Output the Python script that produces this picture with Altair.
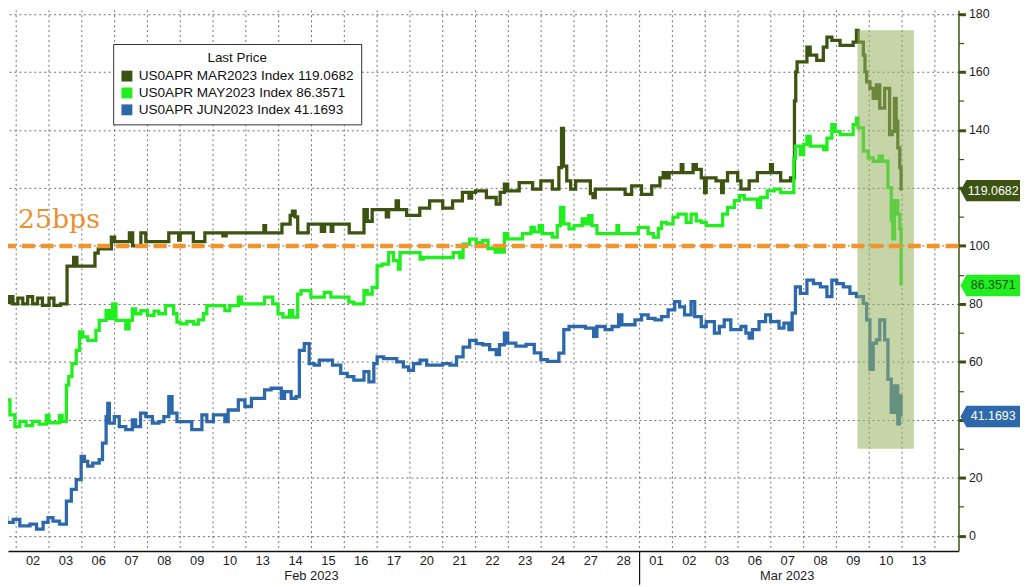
import json
import altair as alt
import pandas as pd

# ---------------- data ----------------
day_labels = ["02", "03", "06", "07", "08", "09", "10", "13", "14", "15", "16", "17", "20", "21",
              "22", "23", "24", "27", "28", "01", "02", "03", "06", "07", "08", "09", "10", "13"]
month_labels = ["Feb 2023", "Mar 2023"]
month_centers = [10.0, 24.5]
month_break = [20]

series_names = ["US0APR MAR2023 Index", "US0APR MAY2023 Index", "US0APR JUN2023 Index"]

# (trading-day index, value); day 0 = Feb 01, day 20 = Mar 01
mar2023 = [(0.5, 81), (0.6, 84), (0.65, 80.5), (0.8, 82.5), (0.9, 80), (1.05, 82), (1.2, 80), (1.35, 82.5),
           (1.5, 80), (1.65, 82), (1.8, 79.5), (2.0, 82), (2.15, 79.5), (2.35, 80), (2.55, 93), (2.75, 96),
           (2.85, 93), (3.4, 97.5), (3.5, 99), (3.9, 103), (4.0, 101.5), (4.45, 104.5), (4.55, 100),
           (4.8, 104.5), (4.95, 101.5), (5.65, 104.5), (5.95, 102), (6.0, 104.5), (6.4, 101.5), (6.75, 104.5),
           (7.3, 103.5), (7.4, 104.5), (8.55, 107), (8.6, 104.5), (9.1, 107.5), (9.35, 110.5), (9.42, 112),
           (9.5, 110), (9.58, 104.5), (9.9, 107.5), (10.3, 105), (10.4, 107.5), (10.6, 105), (10.65, 107.5),
           (11.15, 104.5), (11.6, 112.5), (11.7, 108.5), (11.85, 112.5), (12.28, 110), (12.35, 112.5),
           (12.58, 115.5), (12.65, 112.5), (12.9, 110.5), (13.3, 113), (13.6, 115.5), (14.0, 113), (14.3, 115.5),
           (14.6, 118.5), (14.8, 116.5), (14.88, 118.5), (15.0, 119), (15.33, 116.7), (15.63, 114.4),
           (15.75, 118.5), (15.88, 121.3), (15.98, 119), (16.33, 121.8), (16.74, 119.6), (16.99, 122.4),
           (17.34, 119.6), (17.54, 127), (17.62, 140.5), (17.68, 127.5), (17.78, 122.4), (17.9, 119.6),
           (18.05, 122.4), (18.5, 118), (18.58, 116.7), (18.65, 119.6), (19.56, 117.8), (19.76, 120.7),
           (20.06, 117.8), (20.37, 120.7), (20.62, 123.5), (20.72, 125.3), (20.8, 123.5), (20.9, 125.3),
           (21.27, 128), (21.32, 125.3), (21.63, 128), (21.73, 126.4), (21.88, 123.5), (21.98, 118.4),
           (22.03, 123.5), (22.33, 122.4), (22.5, 118.4), (22.55, 122.4), (22.68, 125.3), (22.99, 122.4),
           (23.09, 119.6), (23.34, 122.4), (23.59, 125.3), (23.99, 128), (24.05, 125.3), (24.3, 122.4),
           (24.6, 123.5), (24.72, 150), (24.76, 160), (24.8, 163.5), (25.1, 168.6), (25.2, 165.8), (25.4, 164),
           (25.6, 168.6), (25.71, 172), (25.86, 170.9), (26.11, 169.2), (26.51, 170.3), (26.61, 174.3),
           (26.66, 170.3), (26.82, 165.8), (26.87, 160), (26.92, 156.6), (27.02, 154.3), (27.12, 150.9),
           (27.22, 155.5), (27.32, 147.5), (27.47, 154.3), (27.62, 138.4), (27.7, 139.5), (27.77, 150.9),
           (27.82, 143), (27.87, 133.8), (27.93, 127), (27.97, 119.0682)]

may2023 = [(0.5, 42.3), (0.66, 46.9), (0.81, 41.7), (0.96, 37.7), (1.11, 39.5), (1.3, 38), (1.5, 39.5),
           (1.7, 38.5), (1.92, 41.5), (2.0, 39), (2.32, 41.5), (2.4, 39.5), (2.53, 52), (2.6, 54.9), (2.7, 59.4),
           (2.83, 64), (2.93, 70.3), (3.03, 68.6), (3.18, 67.4), (3.43, 70.9), (3.53, 74.3), (3.74, 77.7),
           (3.84, 75), (3.94, 80), (4.04, 74.3), (4.34, 71.4), (4.44, 74.3), (4.54, 78.3), (4.64, 76.6),
           (4.8, 77.7), (5.0, 76), (5.2, 77.5), (5.35, 76.6), (5.55, 79.4), (5.8, 76.6), (5.9, 73.7), (6.0, 73.1),
           (6.2, 74), (6.4, 73), (6.55, 74.5), (6.71, 76.6), (6.81, 79.4), (7.36, 77.7), (7.51, 79.4),
           (7.77, 82.3), (7.87, 80), (8.57, 82.3), (8.82, 80), (8.98, 76.6), (9.13, 75.4), (9.33, 77.7),
           (9.43, 75.4), (9.58, 83.4), (9.68, 84.6), (9.98, 82.3), (10.39, 84), (10.59, 82.3), (11.14, 80.6),
           (11.29, 80), (11.6, 84.6), (11.7, 83.4), (11.85, 85.7), (12.0, 93.1), (12.15, 93.7), (12.35, 97.7),
           (12.5, 94.9), (12.65, 92), (12.7, 97.7), (13.31, 95.4), (13.41, 96), (14.32, 97.7), (14.52, 96),
           (14.62, 100.6), (14.82, 102.3), (15.02, 101.1), (15.22, 101.9), (15.38, 99.1), (15.6, 97.9),
           (15.7, 99.1), (15.8, 97.9), (15.88, 104.2), (15.98, 102.4), (16.43, 104.2), (16.69, 106.4),
           (16.79, 104.8), (16.94, 107), (17.04, 104.2), (17.34, 103), (17.49, 107), (17.59, 113.3),
           (17.69, 107.6), (17.85, 105.9), (18.0, 107), (18.25, 109.3), (18.35, 107.6), (18.45, 110.4),
           (18.55, 107), (18.7, 104.2), (19.31, 107), (19.36, 104.2), (19.96, 106.4), (20.26, 104.2),
           (20.42, 103), (20.57, 106), (20.67, 108.1), (20.82, 107.6), (21.02, 109.9), (21.17, 111),
           (21.42, 108.1), (21.57, 111), (21.73, 108.6), (21.88, 108.1), (22.03, 107), (22.53, 111),
           (22.68, 113.3), (22.89, 115.6), (23.04, 117.3), (23.19, 116.1), (23.59, 113.3), (23.69, 116.7),
           (23.89, 119), (24.1, 119.6), (24.3, 118.4), (24.7, 130), (24.75, 134.4), (24.9, 131.5), (25.0, 135),
           (25.1, 137.8), (25.2, 134.4), (25.61, 133.2), (25.71, 137.2), (25.86, 141.8), (25.96, 139.5),
           (26.11, 138.4), (26.51, 141.8), (26.61, 144.1), (26.66, 140.7), (26.82, 132.7), (26.97, 130.4),
           (27.12, 129.2), (27.3, 131), (27.4, 129.2), (27.57, 120.1), (27.67, 108.7), (27.72, 102.4),
           (27.77, 115.6), (27.87, 111), (27.93, 106), (27.97, 86.3571)]

jun2023 = [(0.5, 6.3), (0.71, 4.6), (0.91, 5.7), (1.11, 3.4), (1.42, 4), (1.62, 2.3), (1.82, 4.6), (1.97, 6.3),
           (2.12, 5.1), (2.32, 4), (2.53, 12), (2.68, 16), (2.83, 19.4), (2.98, 27.4), (3.08, 25.7), (3.18, 24),
           (3.33, 25.1), (3.53, 26.3), (3.63, 32), (3.74, 41.1), (3.79, 45.7), (3.84, 38.9), (3.99, 41.1),
           (4.14, 37.7), (4.34, 36.6), (4.54, 40), (4.64, 37.7), (4.79, 42.3), (4.95, 41.1), (5.15, 38.9),
           (5.35, 39.4), (5.5, 41.1), (5.65, 48), (5.75, 42.3), (5.9, 39.4), (6.35, 36.6), (6.66, 41.7),
           (6.81, 39.4), (7.01, 41.7), (7.36, 39.4), (7.46, 43.4), (7.77, 46.9), (7.97, 44.6), (8.17, 47.4),
           (8.57, 50.3), (8.77, 50.9), (9.08, 47.4), (9.18, 49.7), (9.38, 47.4), (9.53, 48), (9.63, 64),
           (9.78, 66.3), (9.93, 59.4), (10.08, 58.9), (10.24, 60.6), (10.64, 58.9), (10.89, 56), (11.09, 54.9),
           (11.29, 53.7), (11.6, 56.6), (11.75, 53.1), (11.9, 59.4), (12.0, 61.7), (12.2, 61.1), (12.6, 60),
           (12.8, 58.3), (12.96, 57.1), (13.11, 59.4), (13.31, 60.6), (13.51, 58.9), (14.0, 59.4), (14.22, 58.9),
           (14.42, 61.7), (14.62, 65.1), (14.82, 67.4), (15.02, 66.3), (15.22, 65.9), (15.43, 64.2),
           (15.63, 62.5), (15.73, 65.9), (15.88, 69.9), (15.98, 66.5), (16.23, 65.4), (16.54, 66), (16.79, 63.1),
           (16.99, 60.8), (17.19, 60.2), (17.54, 63), (17.69, 71.1), (17.85, 72.2), (18.35, 71.6), (18.6, 68.8),
           (18.7, 72.2), (18.95, 71.1), (19.16, 72.2), (19.36, 76.2), (19.46, 72.8), (19.86, 74.5),
           (20.06, 76.2), (20.26, 75), (20.47, 74.5), (20.67, 75.6), (20.87, 77.9), (21.07, 80.8), (21.22, 79),
           (21.37, 76.2), (21.57, 80.8), (21.68, 75.6), (21.88, 72.2), (22.03, 73.9), (22.28, 69.9),
           (22.43, 72.2), (22.58, 74.5), (22.78, 71.1), (23.09, 72.2), (23.24, 69.9), (23.34, 68.2),
           (23.44, 71.1), (23.64, 73.9), (23.84, 76.2), (23.99, 73.9), (24.2, 74), (24.25, 71.6), (24.4, 73.4),
           (24.55, 71.1), (24.65, 76.8), (24.75, 85.9), (24.9, 83.6), (25.1, 88.2), (25.3, 87), (25.51, 85.9),
           (25.71, 82.5), (25.86, 88.2), (26.01, 87), (26.21, 85.9), (26.41, 83.6), (26.61, 82.5), (26.82, 80.2),
           (26.92, 74.5), (27.02, 57.4), (27.12, 66.5), (27.22, 67.6), (27.32, 74.5), (27.47, 67.6),
           (27.57, 54), (27.67, 42.6), (27.77, 51.7), (27.87, 38.6), (27.92, 48.3), (27.97, 41.1693)]

threshold = [100]
threshold_label = "25bps"
highlight_days = [26.64, 28.36]
highlight_values = [30, 174.4]

# ---------------- style / layout ----------------
series_colors = ["#3c5311", "#20ee1e", "#2d69aa"]
flag_text_colors = ["#ffffff", "#145214", "#ffffff"]
FONT = "Liberation Sans"
W, H = 958, 545
X_DOMAIN = [0.75, 29.72]
Y_DOMAIN = [-5.24, 181.28]
AXIS_DARK = "#3c4f12"
GRID = "#6f6f6f"
FLAG = "M-1,0 L-0.8,-0.36 L1,-0.36 L1,0.36 L-0.8,0.36 Z"

all_series = [mar2023, may2023, jun2023]
last_vals = [pts[-1][1] for pts in all_series]
legend_labels = [f"{n} {v:.4f}" for n, v in zip(series_names, last_vals)]

rows = []
for name, pts in zip(series_names, all_series):
    for t, v in pts:
        rows.append({"t": t, "v": v, "series": name})
lines_df = pd.DataFrame(rows)

# axis labels hidden where a last-value flag covers them (as in the original)
hide_test = " || ".join(f"abs(datum.value - {v}) < 5" for v in last_vals)

x_scale = alt.Scale(domain=X_DOMAIN, nice=False, zero=False)
y_scale = alt.Scale(domain=Y_DOMAIN, nice=False, zero=False)

x_axis = alt.Axis(
    values=[i + 1.5 for i in range(len(day_labels))],
    labelExpr=f"{json.dumps(day_labels)}[round(datum.value - 1.5)]",
    grid=False, ticks=False, domain=True, domainColor="#111111", domainWidth=1.5,
    labelFont=FONT, labelFontSize=13, labelColor="#222222", labelPadding=4,
    labelOverlap=False, labelFlush=False, title=None,
)
y_axis = alt.Axis(
    orient="right", values=list(range(0, 181, 10)),
    labelExpr=f"(datum.value % 20 == 0 && !({hide_test})) ? datum.label : ''",
    grid=True, gridColor=GRID, gridDash=[2, 3], gridWidth=1,
    gridOpacity={"condition": {"test": "datum.value % 20 != 0", "value": 0}, "value": 1},
    tickColor=AXIS_DARK,
    tickSize={"condition": {"test": "datum.value % 20 == 0", "value": 7}, "value": 5},
    tickWidth={"condition": {"test": "datum.value % 20 == 0", "value": 3}, "value": 1.2},
    domain=True, domainColor=AXIS_DARK, domainWidth=1.5,
    labelFont=FONT, labelFontSize=12.5, labelColor="#222222", labelPadding=3, title=None,
)

X = lambda f: alt.X(f, scale=x_scale, axis=x_axis)
Y = lambda f: alt.Y(f, scale=y_scale, axis=y_axis)

vgrid = alt.Chart(pd.DataFrame({"t": list(range(1, len(day_labels) + 2))})).mark_rule(
    color=GRID, strokeDash=[2, 3], strokeWidth=1, clip=True
).encode(x=X("t:Q"))

lines = alt.Chart(lines_df).mark_line(
    interpolate="step-after", strokeWidth=3.3, clip=True
).encode(x=X("t:Q"), y=Y("v:Q"),
         color=alt.Color("series:N", scale=alt.Scale(domain=series_names, range=series_colors), legend=None))

hl = alt.Chart(pd.DataFrame({"x0": [highlight_days[0]], "x1": [highlight_days[1]],
                             "y0": [highlight_values[0]], "y1": [highlight_values[1]]})).mark_rect(
    color="#95b361", opacity=0.55
).encode(x=X("x0:Q"), x2="x1:Q", y=Y("y0:Q"), y2="y1:Q")

thr = alt.Chart(pd.DataFrame({"v": threshold})).mark_rule(
    color="#f0952e", strokeWidth=4.5, strokeDash=[13, 6]
).encode(y=Y("v:Q"))

thr_text = alt.Chart(pd.DataFrame({"txt": [threshold_label]})).mark_text(
    font="DejaVu Serif", fontSize=27, color="#ec8f2f", align="left", baseline="alphabetic"
).encode(x=alt.value(10), y=alt.value(219), text="txt:N")

months = alt.Chart(pd.DataFrame({"t": month_centers, "txt": month_labels})).mark_text(
    font=FONT, fontSize=13, color="#222222", baseline="middle"
).encode(x=X("t:Q"), y=alt.value(H + 25), text="txt:N")

sep = alt.Chart(pd.DataFrame({"t": month_break})).mark_rule(color="#111111", strokeWidth=1.2).encode(
    x=X("t:Q"), y=alt.value(H), y2=alt.value(H + 34)
)

flags_df = pd.DataFrame({"name": legend_labels, "v": last_vals, "tcolor": flag_text_colors,
                         "txt": [f"{v:.4f}" for v in last_vals]})
flag_marks = alt.Chart(flags_df).mark_point(
    shape=FLAG, size=3600, filled=True, opacity=1, strokeWidth=0
).encode(
    x=alt.value(W + 32), y=Y("v:Q"),
    fill=alt.Fill("name:N", scale=alt.Scale(domain=legend_labels, range=series_colors),
                  legend=alt.Legend(title="Last Price", orient="none", legendX=106, legendY=34,
                                    direction="vertical", symbolType="square", symbolSize=121,
                                    symbolStrokeWidth=0, fillColor="white", strokeColor="#333333",
                                    padding=7, titleAnchor="middle", titleFont=FONT, titleFontSize=13.5,
                                    titleFontWeight="normal", titleColor="#111111", labelFont=FONT,
                                    labelFontSize=13.7, labelColor="#111111", rowPadding=2,
                                    labelLimit=400, titlePadding=5, labelOffset=5)),
)
flag_text = alt.Chart(flags_df).mark_text(font=FONT, fontSize=12.5, align="center", baseline="middle").encode(
    x=alt.value(W + 35), y=Y("v:Q"), text="txt:N", color=alt.Color("tcolor:N", scale=None)
)

chart = alt.layer(
    vgrid, lines, hl, thr, thr_text, months, sep, flag_marks, flag_text
).properties(
    width=W, height=H,
    autosize=alt.AutoSizeParams(type="none"),
    padding={"left": 0, "top": 0, "right": 64, "bottom": 34},
    background="white",
).configure_view(stroke=None)

chart.save("out.html", embed_options={"renderer": "svg", "actions": False})
